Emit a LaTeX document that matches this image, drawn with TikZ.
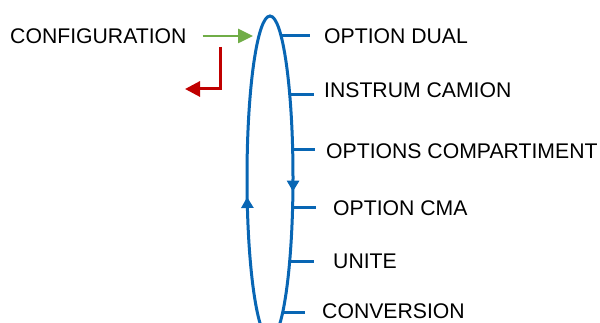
\documentclass[tikz,border=0pt]{standalone}
\usepackage{fontspec}
\setmainfont{Liberation Sans}
\usetikzlibrary{positioning,arrows.meta,decorations.markings}
\tikzset{>={Triangle}}
\definecolor{loopblue}{HTML}{0866B4}
\definecolor{ingreen}{HTML}{70AD47}
\definecolor{outred}{HTML}{C00000}

\begin{document}
\begin{tikzpicture}[x=1pt, y=1pt,
  lab/.style={inner sep=0pt, anchor=west, font=\fontsize{21.2}{25}\selectfont},
  tick/.style={draw=loopblue, line width=3pt},
  loopline/.style={color=loopblue, line width=3pt, postaction={decorate},
    decoration={markings,
      mark=at position 352pt with {\arrowreversed{Triangle[length=11pt, width=12pt]}},
      mark=at position -14pt with {\arrowreversed{Triangle[length=11pt, width=12pt]}}}},
  inarrow/.style={draw=ingreen, line width=2.6pt, -{Triangle[length=15pt, width=14pt]}},
  outarrow/.style={draw=outred, line width=3pt, -{Triangle[length=15pt, width=15pt]}}]
\useasboundingbox (0,0) rectangle (600,323);
\node[lab] (config) at (10,287) {CONFIGURATION};
\coordinate (entry) at (253,287);
\coordinate (exit) at (220,276);
\coordinate (back) at (185,234);
\coordinate (hub) at (270,145.4);
\draw[loopline] (hub) ellipse [x radius=23pt, y radius=161.6pt];
\coordinate (t1) at (281,287.3);
\coordinate (t2) at (290,228);
\coordinate (t3) at (292.7,173);
\coordinate (t4) at (292.6,115);
\coordinate (t5) at (289.6,61);
\coordinate (t6) at (282.6,10);
\node[lab] (dual) at (324,287) {OPTION DUAL};
\node[lab] (camion) at (324,232.5) {INSTRUM CAMION};
\node[lab] (compart) at (326,171.7) {OPTIONS COMPARTIMENT};
\node[lab] (cma) at (333,115) {OPTION CMA};
\node[lab] (unite) at (333,62) {UNITE};
\node[lab] (conv) at (322,12) {CONVERSION};
\draw[inarrow, shorten <=16pt] (config.east) -- (entry);
\draw[outarrow] (exit) |- (back);
\draw[tick, shorten >=14pt] (t1) -- (t1 -| dual.west);
\draw[tick, shorten >=10pt] (t2) -- (t2 -| camion.west);
\draw[tick, shorten >=11pt] (t3) -- (t3 -| compart.west);
\draw[tick, shorten >=17pt] (t4) -- (t4 -| cma.west);
\draw[tick, shorten >=19pt] (t5) -- (t5 -| unite.west);
\draw[tick, shorten >=17pt] (t6) -- (t6 -| conv.west);
\end{tikzpicture}
\end{document}
